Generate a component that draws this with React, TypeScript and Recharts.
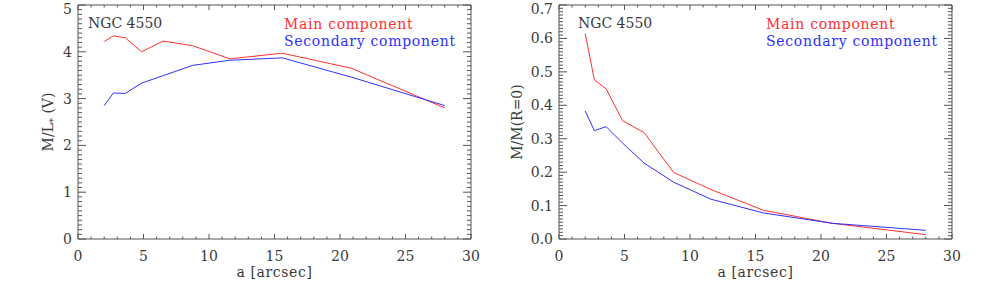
import React from 'react'
import { LineChart, Line, XAxis, YAxis } from 'recharts'

// radii (arcsec) shared by both panels
const radius = [2.0, 2.7, 3.6, 4.85, 6.5, 8.75, 11.6, 15.6, 20.85, 28.0]

// left panel: M/L* (V)
const mlMain = [4.22, 4.34, 4.3, 4.0, 4.23, 4.13, 3.85, 3.97, 3.65, 2.8]
const mlSecondary = [2.85, 3.12, 3.11, 3.33, 3.49, 3.71, 3.82, 3.87, 3.46, 2.85]

// right panel: M/M(R=0)
const massMain = [0.615, 0.476, 0.449, 0.354, 0.318, 0.199, 0.148, 0.086, 0.047, 0.013]
const massSecondary = [0.383, 0.324, 0.336, 0.287, 0.227, 0.17, 0.119, 0.078, 0.047, 0.026]

const xTicks = [0, 5, 10, 15, 20, 25, 30]
const mlTicks = [0, 1, 2, 3, 4, 5]
const massTicks = [0, 0.1, 0.2, 0.3, 0.4, 0.5, 0.6, 0.7]

const galaxyName = 'NGC 4550'
const seriesNames = ['Main component', 'Secondary component']

const RED = '#ff3030'
const BLUE = '#3030ff'
const AXIS = '#555'
const TEXT = '#3a3a3a'
const FONT = '"DejaVu Serif", serif'

// minor tick positions (no labels), majors included
const minorTicks = (max: number, step: number) => {
  const n = Math.round(max / step)
  return Array.from({ length: n + 1 }, (_, i) => Math.round(i * step * 1000) / 1000)
}

const toRows = (main: number[], secondary: number[]) =>
  radius.map((a, i) => ({ a, main: main[i], secondary: secondary[i] }))

type Side = 'bottom' | 'top' | 'left' | 'right'

// IDL-style inward ticks: tickSize/tickMargin are 0 so (x, y) sits on the axis line
const makeTick = (side: Side, majors: number[], majorLen: number, fmt?: (v: number) => string) =>
  (props: any) => {
    const { x, y, payload } = props
    const v = payload.value as number
    const isMajor = majors.some(m => Math.abs(m - v) < 1e-9)
    const len = isMajor ? majorLen : majorLen / 2
    let line
    if (side === 'bottom') line = <line x1={x} x2={x} y1={y} y2={y - len} stroke={AXIS} />
    else if (side === 'top') line = <line x1={x} x2={x} y1={y} y2={y + len} stroke={AXIS} />
    else if (side === 'left') line = <line x1={x} x2={x + len} y1={y} y2={y} stroke={AXIS} />
    else line = <line x1={x} x2={x - len} y1={y} y2={y} stroke={AXIS} />
    let label = null
    if (isMajor && fmt) {
      const isTop = Math.abs(v - majors[majors.length - 1]) < 1e-9
      label = side === 'bottom'
        ? <text x={x} y={y + 22} textAnchor="middle" fill={TEXT} fontSize={14} fontFamily={FONT}>{fmt(v)}</text>
        : <text x={x - 6} y={y + (isTop ? 9 : 5)} textAnchor="end" fill={TEXT} fontSize={14} fontFamily={FONT}>{fmt(v)}</text>
    }
    return <g>{line}{label}</g>
  }

type PanelProps = {
  left: number
  width: number
  margin: { top: number; right: number; bottom: number; left: number }
  data: { a: number; main: number; secondary: number }[]
  yMax: number
  yTicks: number[]
  yMinor: number[]
  yFormat: (v: number) => string
  yTitle: React.ReactNode
  titleDx: number
  nameX: number
  legendX: number
}

const Panel: React.FC<PanelProps> = p => {
  const xMinor = minorTicks(30, 1)
  const axisLine = { stroke: AXIS }
  return (
    <div style={{ position: 'absolute', left: p.left, top: 0, width: p.width, height: 282 }}>
      <LineChart width={p.width} height={282} data={p.data} margin={p.margin}>
        <XAxis
          xAxisId="x" dataKey="a" type="number" domain={[0, 30]} ticks={xMinor} interval={0}
          height={1} tickSize={0} tickMargin={0} axisLine={axisLine} tickLine={false}
          tick={makeTick('bottom', xTicks, 5, v => String(v))}
          label={(props: any) => {
            const vb = props.viewBox
            return (
              <text x={vb.x + vb.width / 2} y={vb.y + 38} textAnchor="middle" letterSpacing={0.6}
                fill={TEXT} fontSize={14} fontFamily={FONT}>a [arcsec]</text>
            )
          }}
        />
        <XAxis
          xAxisId="xt" orientation="top" dataKey="a" type="number" domain={[0, 30]} ticks={xMinor} interval={0}
          height={1} tickSize={0} tickMargin={0} axisLine={axisLine} tickLine={false}
          tick={makeTick('top', xTicks, 5)}
        />
        <YAxis
          yAxisId="y" type="number" domain={[0, p.yMax]} ticks={p.yMinor} interval={0} allowDataOverflow
          width={1} tickSize={0} tickMargin={0} axisLine={axisLine} tickLine={false}
          tick={makeTick('left', p.yTicks, 8, p.yFormat)}
          label={(props: any) => {
            const vb = props.viewBox
            const cx = vb.x + vb.width + p.titleDx
            const cy = vb.y + vb.height / 2
            return (
              <text x={cx} y={cy} transform={`rotate(-90, ${cx}, ${cy})`} textAnchor="middle"
                dominantBaseline="central" fill={TEXT} fontSize={14} fontFamily={FONT}>{p.yTitle}</text>
            )
          }}
        />
        <YAxis
          yAxisId="yr" orientation="right" type="number" domain={[0, p.yMax]} ticks={p.yMinor} interval={0}
          allowDataOverflow width={1} tickSize={0} tickMargin={0} axisLine={axisLine} tickLine={false}
          tick={makeTick('right', p.yTicks, 8)}
        />

        <Line xAxisId="x" yAxisId="y" type="linear" dataKey="main" stroke={RED} strokeWidth={1}
          dot={false} activeDot={false} isAnimationActive={false} />
        <Line xAxisId="x" yAxisId="y" type="linear" dataKey="secondary" stroke={BLUE} strokeWidth={1}
          dot={false} activeDot={false} isAnimationActive={false} />
      </LineChart>
      <div style={{ position: 'absolute', left: p.nameX, top: 16, font: `14px ${FONT}`, lineHeight: '14px', color: TEXT, whiteSpace: 'nowrap' }}>
        {galaxyName}
      </div>
      <div style={{ position: 'absolute', left: p.legendX, top: 16, font: `14px ${FONT}`, lineHeight: '17px', letterSpacing: '0.7px', whiteSpace: 'nowrap' }}>
        <div style={{ color: RED }}>{seriesNames[0]}</div>
        <div style={{ color: BLUE }}>{seriesNames[1]}</div>
      </div>
    </div>
  )
}

export default function App() {
  return (
    <div style={{ position: 'absolute', left: 0, top: 0, width: 981, height: 282, background: '#fff', overflow: 'hidden' }}>
      <Panel
        left={0} width={490}
        margin={{ top: 4, right: 18, bottom: 42, left: 77 }}
        data={toRows(mlMain, mlSecondary)}
        yMax={5} yTicks={mlTicks} yMinor={minorTicks(5, 0.1)}
        yFormat={v => String(v)}
        yTitle={<>M/L<tspan dy={4} fontSize={10}>*</tspan><tspan dy={-4}> (V)</tspan></>}
        titleDx={-30}
        nameX={88} legendX={284}
      />
      <Panel
        left={490} width={491}
        margin={{ top: 4, right: 28, bottom: 42, left: 68 }}
        data={toRows(massMain, massSecondary)}
        yMax={0.7} yTicks={massTicks} yMinor={minorTicks(0.7, 0.01)}
        yFormat={v => v.toFixed(1)}
        yTitle="M/M(R=0)"
        titleDx={-42}
        nameX={88} legendX={276}
      />
    </div>
  )
}
